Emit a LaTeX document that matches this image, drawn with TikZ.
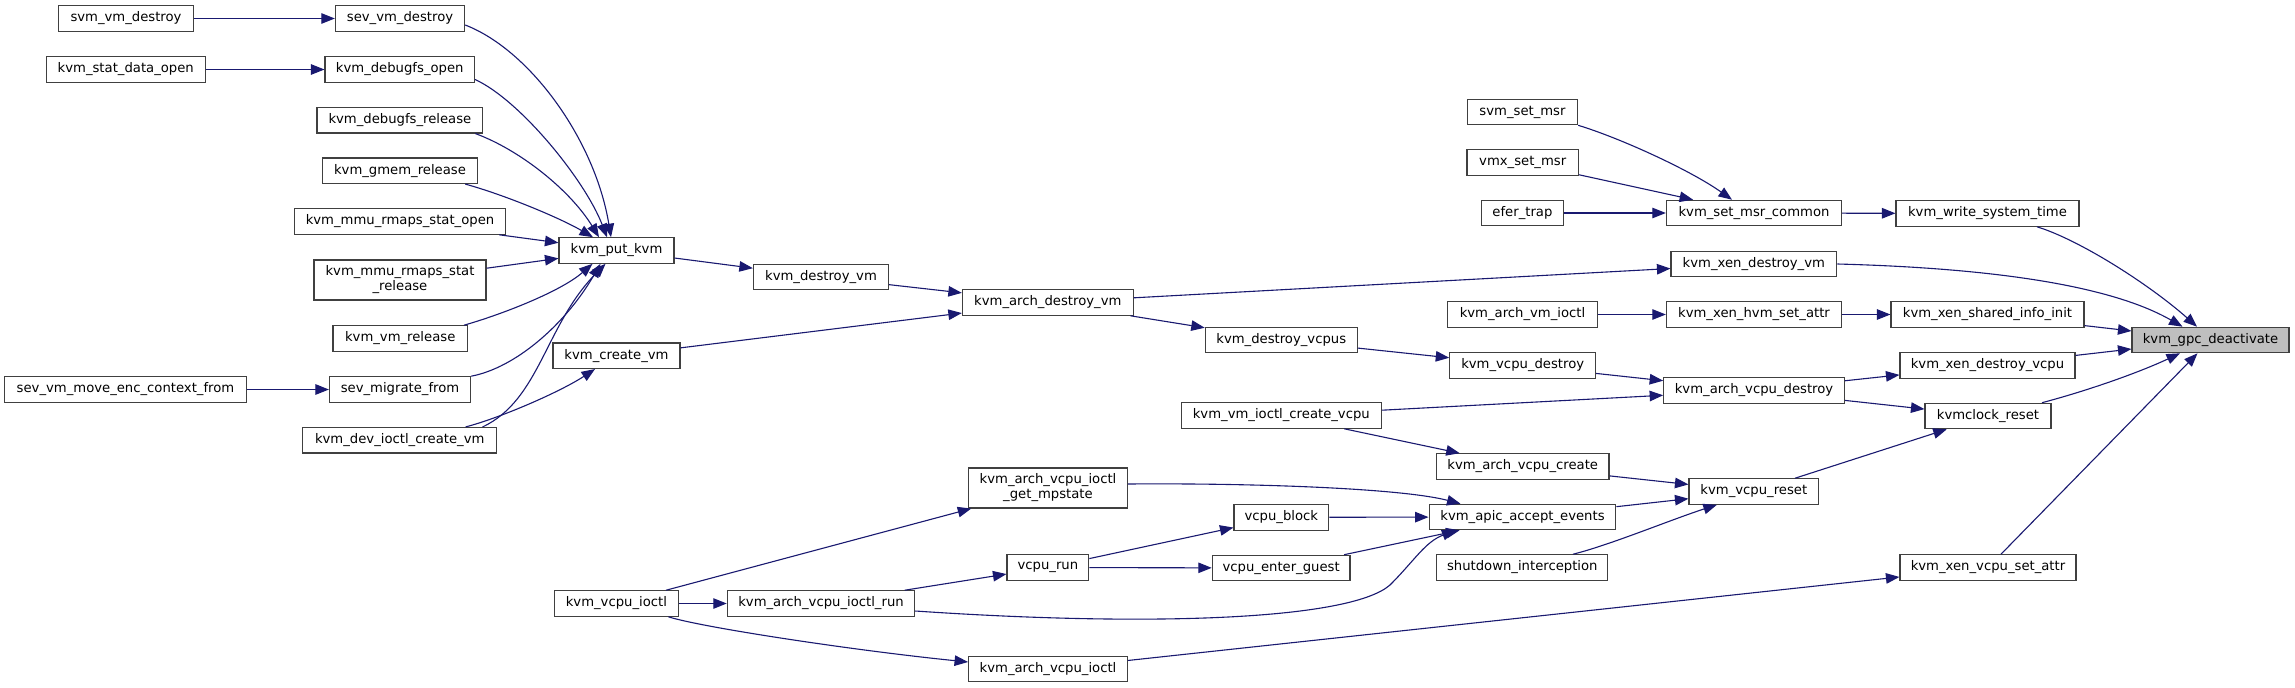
\documentclass[tikz,border=0pt]{standalone}
\usepackage{fontspec}
\setmainfont{DejaVu Sans}
\usetikzlibrary{arrows.meta}
\definecolor{edgeblue}{HTML}{191970}
\definecolor{boxline}{HTML}{404040}
\definecolor{rootfill}{HTML}{BFBFBF}
\tikzset{
  fn/.style={draw=boxline, fill=white, line width=1.1pt, inner sep=0pt, minimum height=25.5pt,
    font=\fontsize{13.2pt}{15pt}\selectfont, text=black, align=center},
  call/.style={draw=edgeblue, line width=1.1pt, -{Triangle[length=13.5pt,width=10.5pt]}},
}
\begin{document}
\begin{tikzpicture}[x=1pt,y=-1pt]
\fill[white] (0,0) rectangle (2295,688);
\useasboundingbox (0,0) rectangle (2295,688);
% nodes
\node[fn, minimum width=135pt] (svmvd) at (126,18.5) {svm\_vm\_destroy};
\node[fn, minimum width=129.3pt] (sevvd) at (400,18.5) {sev\_vm\_destroy};
\node[fn, minimum width=158.9pt] (ksdo) at (125.75,69.5) {kvm\_stat\_data\_open};
\node[fn, minimum width=149.5pt] (kdo) at (399.75,69.5) {kvm\_debugfs\_open};
\node[fn, minimum width=165.8pt] (kdr) at (399.9,120.25) {kvm\_debugfs\_release};
\node[fn, minimum width=154.6pt] (kgr) at (400,170.75) {kvm\_gmem\_release};
\node[fn, minimum width=210.7pt] (krso) at (400,221.5) {kvm\_mmu\_rmaps\_stat\_open};
\node[fn, minimum width=172pt, minimum height=40pt] (krsr) at (400,280) {kvm\_mmu\_rmaps\_stat\\\_release};
\node[fn, minimum width=134.4pt] (kvr) at (400.2,338.5) {kvm\_vm\_release};
\node[fn, minimum width=141.1pt] (smf) at (400,389.5) {sev\_migrate\_from};
\node[fn, minimum width=241.6pt] (svmec) at (125.5,389.5) {sev\_vm\_move\_enc\_context\_from};
\node[fn, minimum width=193.7pt] (dicv) at (399.75,440.25) {kvm\_dev\_ioctl\_create\_vm};
\node[fn, minimum width=115pt] (kput) at (616.5,250.5) {kvm\_put\_kvm};
\node[fn, minimum width=127pt] (kcv) at (616.5,355.75) {kvm\_create\_vm};
\node[fn, minimum width=124pt] (vio) at (616.4,603.5) {kvm\_vcpu\_ioctl};
\node[fn, minimum width=135.2pt] (kdvm) at (821,277) {kvm\_destroy\_vm};
\node[fn, minimum width=187.4pt] (avir) at (821,603.5) {kvm\_arch\_vcpu\_ioctl\_run};
\node[fn, minimum width=170.8pt] (kadvm) at (1047.8,302.5) {kvm\_arch\_destroy\_vm};
\node[fn, minimum width=158.8pt, minimum height=40pt] (gmp) at (1048,488) {kvm\_arch\_vcpu\_ioctl\\\_get\_mpstate};
\node[fn, minimum width=158.8pt] (avi) at (1048,669) {kvm\_arch\_vcpu\_ioctl};
\node[fn, minimum width=81.8pt] (vrun) at (1047.9,567.5) {vcpu\_run};
\node[fn, minimum width=151.9pt] (kdvc) at (1281.25,340) {kvm\_destroy\_vcpus};
\node[fn, minimum width=200pt] (cvcpu) at (1281.3,415.5) {kvm\_vm\_ioctl\_create\_vcpu};
\node[fn, minimum width=94.7pt] (vblk) at (1281.35,517.3) {vcpu\_block};
\node[fn, minimum width=137.7pt] (veg) at (1281.15,568) {vcpu\_enter\_guest};
\node[fn, minimum width=149.2pt] (kavm) at (1522.5,314.5) {kvm\_arch\_vm\_ioctl};
\node[fn, minimum width=110.2pt] (svmsm) at (1522.5,112) {svm\_set\_msr};
\node[fn, minimum width=111.4pt] (vmxsm) at (1522.7,162.5) {vmx\_set\_msr};
\node[fn, minimum width=81.9pt] (efer) at (1522.45,213) {efer\_trap};
\node[fn, minimum width=145.8pt] (kvd) at (1522.7,365.5) {kvm\_vcpu\_destroy};
\node[fn, minimum width=172.6pt] (avc) at (1522.7,466.5) {kvm\_arch\_vcpu\_create};
\node[fn, minimum width=186.8pt] (apic) at (1522.5,517) {kvm\_apic\_accept\_events};
\node[fn, minimum width=171pt] (shi) at (1522.3,567.5) {shutdown\_interception};
\node[fn, minimum width=175.3pt] (smc) at (1754,213) {kvm\_set\_msr\_common};
\node[fn, minimum width=165.7pt] (xdvm) at (1753.85,264) {kvm\_xen\_destroy\_vm};
\node[fn, minimum width=175.3pt] (xhsa) at (1754,314.5) {kvm\_xen\_hvm\_set\_attr};
\node[fn, minimum width=180.6pt] (avd) at (1754,390.5) {kvm\_arch\_vcpu\_destroy};
\node[fn, minimum width=129.7pt] (rst) at (1753.85,491.5) {kvm\_vcpu\_reset};
\node[fn, minimum width=183pt] (wst) at (1987.5,213.5) {kvm\_write\_system\_time};
\node[fn, minimum width=193pt] (xsii) at (1987.5,314.5) {kvm\_xen\_shared\_info\_init};
\node[fn, minimum width=175pt] (xdvc) at (1987.5,365.5) {kvm\_xen\_destroy\_vcpu};
\node[fn, minimum width=126pt] (kcr) at (1988,416) {kvmclock\_reset};
\node[fn, minimum width=176pt] (xvsa) at (1988,567.5) {kvm\_xen\_vcpu\_set\_attr};
\node[fn, minimum width=157pt, fill=rootfill] (gpc) at (2210.5,340) {kvm\_gpc\_deactivate};
% edges
\draw[call] (svmvd) -- (sevvd);
\draw[call] (ksdo) -- (kdo);
\draw[call] (svmec) -- (smf);
\draw[call] ([yshift=-6.5pt]sevvd.east) .. controls (530,50) and (595,140) .. ([xshift=-5.5pt]kput.north);
\draw[call] ([yshift=-10pt]kdo.east) .. controls (520,100) and (585,180) .. ([xshift=-9.5pt]kput.north);
\draw[call] ([xshift=-8pt]kdr.south east) .. controls (520,150) and (570,190) .. ([xshift=-17.5pt]kput.north);
\draw[call] ([xshift=-12.7pt]kgr.south east) .. controls (505,195) and (560,218) .. ([xshift=-23.5pt]kput.north);
\draw[call] (krso) -- (kput);
\draw[call] (krsr) -- (kput);
\draw[call] ([xshift=-4pt]kvr.north east) .. controls (500,315) and (560,292) .. ([xshift=-24pt]kput.south);
\draw[call] (smf.north east) .. controls (515,368) and (565,325) .. ([xshift=-16pt]kput.south);
\draw[call] ([xshift=-14.6pt]dicv.north east) .. controls (540,400) and (545,325) .. ([xshift=-11pt]kput.south);
\draw[call] ([xshift=-31.6pt]dicv.north east) .. controls (500,418) and (560,392) .. ([xshift=-21.5pt]kcv.south);
\draw[call] (kput) -- (kdvm);
\draw[call] (kcv) -- (kadvm);
\draw[call] (kdvm) -- (kadvm);
\draw[call] (kadvm) -- (xdvm);
\draw[call] (kadvm) -- (kdvc);
\draw[call] (kdvc) -- (kvd);
\draw[call] (kvd) -- (avd);
\draw[call] (cvcpu) -- (avd);
\draw[call] (cvcpu) -- (avc);
\draw[call] (avc) -- (rst);
\draw[call] (apic) -- (rst);
\draw[call] ([xshift=50.7pt]shi.north) .. controls (1610,545) and (1670,520) .. ([xshift=-37pt]rst.south);
\draw[call] ([yshift=4pt]gmp.east) .. controls (1250,483) and (1400,488) .. ([xshift=-62pt]apic.north);
\draw[call] (vblk) -- (apic);
\draw[call] (veg) -- (apic);
\draw[call] ([yshift=-7.5pt]avir.east) .. controls (1150,627) and (1350,620) .. (1390,585) .. controls (1415,560) and (1425,542) .. ([xshift=-67pt]apic.south);
\draw[call] (vio) -- (gmp);
\draw[call] (vio) -- (avir);
\draw[call] ([xshift=52pt]vio.south) .. controls (700,627) and (850,650) .. ([yshift=7pt]avi.west);
\draw[call] (avir) -- (vrun);
\draw[call] (vrun) -- (vblk);
\draw[call] (vrun) -- (veg);
\draw[call] (avi) -- (xvsa);
\draw[call] (svmsm.south east) .. controls (1620,138) and (1690,170) .. ([xshift=-22pt]smc.north);
\draw[call] (vmxsm) -- (smc);
\draw[call] (efer) -- (smc);
\draw[call] (smc) -- (wst);
\draw[call] (kavm) -- (xhsa);
\draw[call] (xhsa) -- (xsii);
\draw[call] (avd) -- (xdvc);
\draw[call] (avd) -- (kcr);
\draw[call] (rst) -- (kcr);
\draw[call] ([xshift=49.5pt]wst.south) .. controls (2080,240) and (2150,285) .. ([xshift=-13.5pt]gpc.north);
\draw[call] (xdvm.east) .. controls (1990,268) and (2110,285) .. ([xshift=-28pt]gpc.north);
\draw[call] (xsii) -- (gpc);
\draw[call] (xdvc) -- (gpc);
\draw[call] ([xshift=54pt]kcr.north) .. controls (2090,390) and (2140,372) .. ([xshift=-30.5pt]gpc.south);
\draw[call] (xvsa) -- (gpc);
\end{tikzpicture}
\end{document}
